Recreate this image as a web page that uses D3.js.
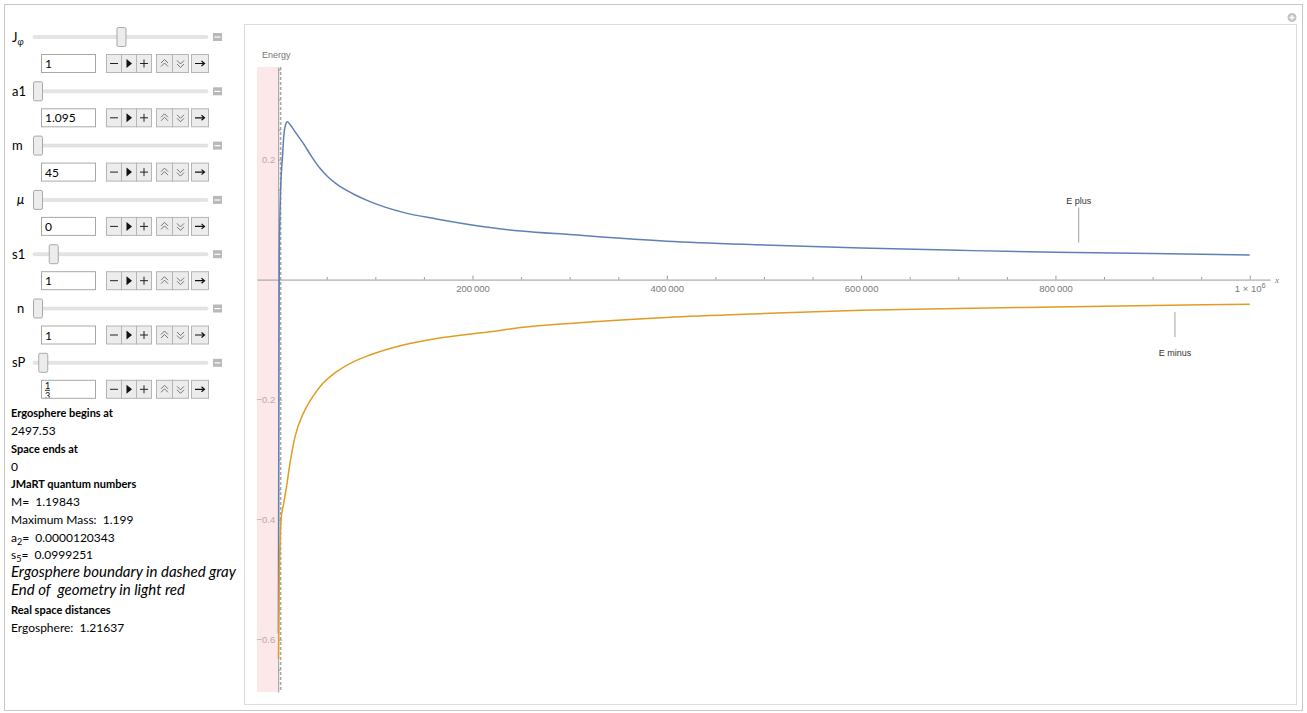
<!DOCTYPE html>
<html>
<head>
<meta charset="utf-8">
<script src="https://cdn.jsdelivr.net/npm/d3@7"></script>
<style>
  html, body { margin: 0; padding: 0; background: #ffffff; }
  svg { display: block; }
  .ui { font-family: Lato, "Liberation Sans", sans-serif; fill: #000; white-space: pre; }
  .tick text { font-family: "Liberation Sans", Arial, sans-serif; }
</style>
</head>
<body>
<svg id="chart" width="1307" height="713"></svg>
<script>
// ---- Energy curves (x in coordinate units, energy values) ----
const xPlus = [200, 500, 800, 1130, 2000, 3000, 4220, 6000, 8000, 9400, 12000, 17290, 25870, 34440, 43020, 51590, 60210, 77300, 94490, 128770, 163140, 218000, 250000, 300000, 400000, 500000, 600000, 700000, 800000, 900000, 1000000];
const ePlus = [-0.59, -0.36, -0.15, 0.03, 0.12, 0.17, 0.2, 0.243, 0.26, 0.263, 0.259, 0.2465, 0.227, 0.205, 0.1855, 0.1705, 0.159, 0.1427, 0.130, 0.112, 0.101, 0.0867, 0.081, 0.075, 0.064, 0.0577, 0.0527, 0.0488, 0.0455, 0.0433, 0.041];

const xMinus = [300, 700, 1130, 2000, 2880, 5400, 8030, 12150, 17290, 25870, 34440, 43020, 60210, 77300, 94490, 128770, 163140, 218000, 250000, 300000, 400000, 500000, 600000, 700000, 800000, 900000, 1000000];
const eMinus = [-0.632, -0.56, -0.50, -0.44, -0.40, -0.375, -0.351, -0.306, -0.262, -0.223, -0.198, -0.1785, -0.1535, -0.137, -0.1257, -0.109, -0.098, -0.0868, -0.080, -0.073, -0.063, -0.0565, -0.051, -0.048, -0.0456, -0.043, -0.041];

const seriesNames = ["E plus", "E minus"];
const seriesColors = ["#5e81b5", "#e19c24"];
const labelAt = [824000, 923000];          // x where each curve label's leader line sits

const ergosphereStart = 2497.53;
const spaceEnd = 0;

const xDomain = [-21800, 1020850];
const yDomain = [-0.6873, 0.3543];
const xMajorTicks = [200000, 400000, 600000, 800000, 1000000];
const yMajorTicks = [-0.6, -0.4, -0.2, 0.2];

// ---- Control panel contents ----
const controlNames = ["J", "a1", "m", "μ", "s1", "n", "sP"];
const controlValues = ["1", "1.095", "45", "0", "1", "1", "1/3"];
const sliderFraction = [0.477, 0.0, 0.0, 0.0, 0.09, 0.0, 0.03];

const infoLines = [
  { t: "Ergosphere begins at", style: "bold" },
  { t: "2497.53", style: "normal" },
  { t: "Space ends at", style: "bold" },
  { t: "0", style: "normal" },
  { t: "JMaRT quantum numbers", style: "bold" },
  { t: "M=\u00a0 1.19843", style: "normal" },
  { t: "Maximum Mass:\u00a0 1.199", style: "normal" },
  { t: "a|2|=\u00a0 0.0000120343", style: "normal" },
  { t: "s|5|=\u00a0 0.0999251", style: "normal" },
  { t: "Ergosphere boundary in dashed gray", style: "italic" },
  { t: "End of\u00a0 geometry in light red", style: "italic" },
  { t: "Real space distances", style: "bold" },
  { t: "Ergosphere:\u00a0 1.21637", style: "normal" }
];

const svg = d3.select("#chart");

// ---- Frames ----
svg.append("rect").attr("x", 4.5).attr("y", 4.5).attr("width", 1298).attr("height", 706)
  .attr("fill", "#fff").attr("stroke", "#c8c8c8");
svg.append("rect").attr("x", 244.5).attr("y", 24.5).attr("width", 1052).attr("height", 680)
  .attr("fill", "#fff").attr("stroke", "#dcdcdc");
// little "+" badge in the corner
const badge = svg.append("g").attr("transform", "translate(1292,17.5)");
badge.append("circle").attr("r", 4.5).attr("fill", "#c4c4c4");
badge.append("path").attr("d", "M-2.5,0H2.5M0,-2.5V2.5").attr("stroke", "#fff").attr("stroke-width", 1.3);

// ---- Controls ----
const panel = svg.append("g");
const rowGap = 54.3;
controlNames.forEach((name, i) => {
  const cy = 37 + i * rowGap;
  const g = panel.append("g");
  // label
  if (name === "J") {
    const t = g.append("text").attr("class", "ui").attr("x", 12).attr("y", cy + 4.5).attr("font-size", 13);
    t.append("tspan").text("J");
    t.append("tspan").attr("font-size", 9).attr("dy", 3).attr("font-style", "italic").text("φ");
  } else {
    g.append("text").attr("class", "ui").attr("x", (name === "n" || name === "μ") ? 17 : 12).attr("y", cy + 4.5)
      .attr("font-size", 13).attr("font-style", name === "μ" ? "italic" : null).text(name);
  }
  // slider track
  g.append("rect").attr("x", 33).attr("y", cy - 1.5).attr("width", 175).attr("height", 3)
    .attr("rx", 1.5).attr("fill", "#e4e4e4").attr("stroke", "#d6d6d6").attr("stroke-width", 0.5);
  const tx = 33 + sliderFraction[i] * 175;
  g.append("rect").attr("x", tx + 0.5).attr("y", cy - 9.5).attr("width", 9).attr("height", 19)
    .attr("rx", 1.5).attr("fill", "#ececec").attr("stroke", "#a9a9a9");
  // collapse icon
  g.append("rect").attr("x", 213).attr("y", cy - 4).attr("width", 9).attr("height", 8).attr("fill", "#b9b9b9");
  g.append("rect").attr("x", 214.5).attr("y", cy - 0.5).attr("width", 6).attr("height", 1.2).attr("fill", "#fff");

  // input field
  const iy = cy + 17;
  g.append("rect").attr("x", 41.5).attr("y", iy + 0.5).attr("width", 54).attr("height", 18)
    .attr("fill", "#fff").attr("stroke", "#a8a8a8");
  const val = controlValues[i];
  if (val.includes("/")) {
    const [num, den] = val.split("/");
    const clipId = "clip" + i;
    g.append("clipPath").attr("id", clipId).append("rect").attr("x", 42).attr("y", iy + 1).attr("width", 53).attr("height", 17);
    const fg = g.append("g").attr("clip-path", `url(#${clipId})`);
    fg.append("text").attr("class", "ui").attr("x", 45).attr("y", iy + 9).attr("font-size", 9).text(num);
    fg.append("line").attr("x1", 45).attr("x2", 50).attr("y1", iy + 10.5).attr("y2", iy + 10.5).attr("stroke", "#000").attr("stroke-width", 0.8);
    fg.append("text").attr("class", "ui").attr("x", 45).attr("y", iy + 19).attr("font-size", 9).text(den);
  } else {
    g.append("text").attr("class", "ui").attr("x", 45).attr("y", iy + 14).attr("font-size", 12).text(val);
  }

  // button strip
  const btns = [[106, 15, "minus"], [121, 15, "play"], [136, 15, "plus"], [156, 16, "up"], [172, 16, "down"], [191, 17, "arrow"]];
  btns.forEach(([bx, bw, kind]) => {
    g.append("rect").attr("x", bx + 0.5).attr("y", iy + 0.5).attr("width", bw).attr("height", 18)
      .attr("fill", "#ececec").attr("stroke", "#b5b5b5");
    const cx = bx + bw / 2 + 0.5, cyb = iy + 9.5;
    const ic = g.append("g").attr("transform", `translate(${cx},${cyb})`);
    if (kind === "minus") ic.append("path").attr("d", "M-4,0H4").attr("stroke", "#222").attr("stroke-width", 1);
    if (kind === "plus") ic.append("path").attr("d", "M-4,0H4M0,-4V4").attr("stroke", "#222").attr("stroke-width", 1);
    if (kind === "play") ic.append("path").attr("d", "M-2.5,-4.5L3,0L-2.5,4.5Z").attr("fill", "#111");
    if (kind === "up") ic.append("path").attr("d", "M-3.5,-0.5L0,-4L3.5,-0.5M-3.5,3L0,-0.5L3.5,3").attr("fill", "none").attr("stroke", "#666").attr("stroke-width", 0.9);
    if (kind === "down") ic.append("path").attr("d", "M-3.5,-3L0,0.5L3.5,-3M-3.5,0.5L0,4L3.5,0.5").attr("fill", "none").attr("stroke", "#666").attr("stroke-width", 0.9);
    if (kind === "arrow") ic.append("path").attr("d", "M-5,0H4M1.5,-2.5L4.5,0L1.5,2.5").attr("fill", "none").attr("stroke", "#111").attr("stroke-width", 1.2);
  });
});

// ---- Info text ----
const infoY = [413, 431, 449, 467, 484, 502, 520, 538, 555, 573, 591, 610, 628];
infoLines.forEach((d, i) => {
  const t = panel.append("text").attr("class", "ui").attr("x", 11).attr("y", infoY[i] + 4);
  if (d.style === "bold") t.attr("font-size", 11).attr("font-weight", "bold");
  else if (d.style === "italic") t.attr("font-size", 15).attr("font-style", "italic");
  else t.attr("font-size", 12);
  const parts = d.t.split("|");
  if (parts.length === 3) {
    t.append("tspan").text(parts[0]);
    t.append("tspan").attr("font-size", 9).attr("dy", 3).text(parts[1]);
    t.append("tspan").attr("dy", -3).text(parts[2]);
  } else {
    t.text(d.t);
  }
});

// ---- Plot ----
const x = d3.scaleLinear().domain(xDomain).range([257, 1270]);
const y = d3.scaleLinear().domain(yDomain).range([692, 67]);

const plot = svg.append("g");

// end-of-geometry band
plot.append("rect")
  .attr("x", x(xDomain[0])).attr("y", y(yDomain[1]))
  .attr("width", x(spaceEnd) - x(xDomain[0]))
  .attr("height", y(yDomain[0]) - y(yDomain[1]))
  .attr("fill", "#fde8e9");

const grey = "#9a9a9a";
const fmtGroup = d3.formatLocale({ decimal: ".", thousands: "\u2009", grouping: [3], currency: ["", ""] }).format(",");

// x axis: minor ticks, then major ticks with labels
const xMinor = d3.range(50000, 1000001, 50000).filter(v => !xMajorTicks.includes(v));
plot.append("g").attr("transform", `translate(0,${y(0)})`)
  .call(d3.axisBottom(x).tickValues(xMinor).tickSize(-2.5).tickFormat(""))
  .call(g => g.select(".domain").remove())
  .call(g => g.selectAll("line").attr("stroke", grey));
const xAx = plot.append("g").attr("transform", `translate(0,${y(0)})`)
  .call(d3.axisBottom(x).tickValues(xMajorTicks).tickSize(-4).tickPadding(6).tickSizeOuter(0)
    .tickFormat(v => v === 1000000 ? "" : fmtGroup(v)));
xAx.select(".domain").attr("stroke", grey);
xAx.selectAll("line").attr("stroke", grey);
xAx.selectAll("text").attr("fill", "#7a7a7a").attr("font-size", 9.5);
// 1 × 10^6 label
const big = xAx.selectAll(".tick").filter(v => v === 1000000).select("text");
big.text(null);
big.append("tspan").text("1 × 10");
big.append("tspan").attr("dy", -4).attr("font-size", 7.5).text("6");
plot.append("text").attr("x", 1275).attr("y", y(0) + 3).attr("font-family", "Liberation Serif, serif")
  .attr("font-style", "italic").attr("font-size", 9).attr("fill", "#7a7a7a").text("x");

// y axis
const yMinor = d3.range(-0.65, 0.351, 0.05).filter(v => !yMajorTicks.some(t => Math.abs(t - v) < 1e-6) && Math.abs(v) > 1e-6);
plot.append("g").attr("transform", `translate(${x(0)},0)`)
  .call(d3.axisLeft(y).tickValues(yMinor).tickSize(-2.5).tickFormat(""))
  .call(g => g.select(".domain").remove())
  .call(g => g.selectAll("line").attr("stroke", grey));
const yAx = plot.append("g").attr("transform", `translate(${x(0)},0)`)
  .call(d3.axisLeft(y).tickValues(yMajorTicks).tickSize(-4).tickPadding(3).tickSizeOuter(0).tickFormat(d3.format(".1f")));
yAx.select(".domain").attr("stroke", grey);
yAx.selectAll("line").attr("stroke", grey);
yAx.selectAll("text").attr("fill", "#b9a7a9").attr("font-size", 9.5);
plot.append("text").attr("x", 262).attr("y", 58).attr("font-family", "Liberation Sans, Arial, sans-serif")
  .attr("font-size", 9).attr("fill", "#777").text("Energy");

// ergosphere boundary
plot.append("line")
  .attr("x1", x(ergosphereStart)).attr("x2", x(ergosphereStart))
  .attr("y1", y(yDomain[1])).attr("y2", y(yDomain[0]))
  .attr("stroke", "#a6a6a6").attr("stroke-width", 1.6).attr("stroke-dasharray", "3,2");

// curves
const line = d3.line().x(d => x(d[0])).y(d => y(d[1])).curve(d3.curveMonotoneX);
const series = [d3.zip(xPlus, ePlus), d3.zip(xMinus, eMinus)];
series.forEach((pts, i) => {
  plot.append("path").datum(pts).attr("d", line)
    .attr("fill", "none").attr("stroke", seriesColors[i]).attr("stroke-width", 1.5);
});

// curve labels with leader lines
const interp = (xs, es, v) => {
  const i = d3.bisectLeft(xs, v);
  const t = (v - xs[i - 1]) / (xs[i] - xs[i - 1]);
  return es[i - 1] + t * (es[i] - es[i - 1]);
};
const leader = [[10, 45, 49], [7, 32, 51]];   // gap, line end, text baseline offsets
[[xPlus, ePlus, -1], [xMinus, eMinus, 1]].forEach(([xs, es, dir], i) => {
  const lx = x(labelAt[i]);
  const cy = y(interp(xs, es, labelAt[i]));
  const [g0, g1, tb] = leader[i];
  plot.append("line").attr("x1", lx).attr("x2", lx).attr("y1", cy + dir * g0).attr("y2", cy + dir * g1)
    .attr("stroke", "#a0a0a0").attr("stroke-width", 1);
  plot.append("text").attr("x", lx).attr("y", cy + dir * tb)
    .attr("text-anchor", "middle").attr("font-family", "Liberation Sans, Arial, sans-serif")
    .attr("font-size", 9).attr("fill", "#333").text(seriesNames[i]);
});
</script>
</body>
</html>
